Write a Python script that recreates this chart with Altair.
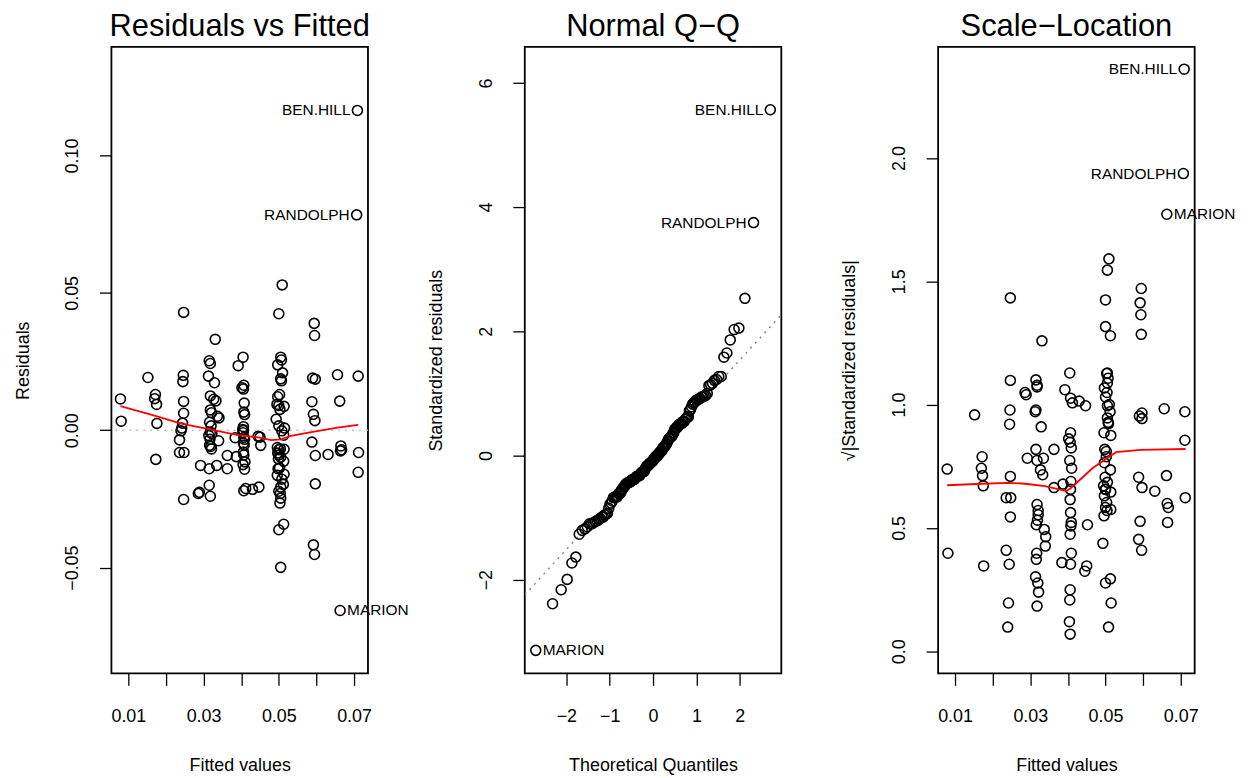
import altair as alt
import numpy as np
import pandas as pd

FONT = "Liberation Sans"

# ---- data -----------------------------------------------------------------
fitted = [
    0.0079, 0.0081,
    0.0152, 0.0172, 0.0170, 0.0173, 0.0175, 0.0176,
    0.0247, 0.0246, 0.0245, 0.0247, 0.0247, 0.0244, 0.0242, 0.0240, 0.0236, 0.0236, 0.0248, 0.0247,
    0.0331, 0.0315, 0.0318, 0.0289, 0.0286, 0.0318, 0.0313, 0.0315, 0.0329, 0.0315,
    0.0292, 0.0318, 0.0335, 0.0327, 0.0333, 0.0318, 0.0321, 0.0337, 0.0341, 0.0316,
    0.0320, 0.0318, 0.0322, 0.0314, 0.0317, 0.0340, 0.0316, 0.0319, 0.0321,
    0.0363, 0.0363,
    0.0405, 0.0392, 0.0407, 0.0402, 0.0406, 0.0408, 0.0407, 0.0409, 0.0406, 0.0404,
    0.0407, 0.0412, 0.0409, 0.0405, 0.0410, 0.0387, 0.0407, 0.0406, 0.0408, 0.0406,
    0.0409, 0.0384, 0.0407, 0.0405, 0.0406,
    0.0430, 0.0447, 0.0445, 0.0450, 0.0452,
    0.0509, 0.0500, 0.0505, 0.0507, 0.0497, 0.0510, 0.0505, 0.0507, 0.0502, 0.0497,
    0.0495, 0.0500, 0.0514, 0.0503, 0.0493, 0.0500, 0.0515,
    0.0505, 0.0500, 0.0513, 0.0503, 0.0505, 0.0504, 0.0500, 0.0505, 0.0512, 0.0508,
    0.0496, 0.0514, 0.0498, 0.0502, 0.0513, 0.0499, 0.0505, 0.0500, 0.0497, 0.0500,
    0.0514, 0.0504, 0.0496, 0.0513, 0.0508,
    0.0594, 0.0595, 0.0592, 0.0595, 0.0590, 0.0597, 0.0588, 0.0597, 0.0592, 0.0588, 0.0596, 0.0597,
    0.0656, 0.0662, 0.0631, 0.0664, 0.0667, 0.0665,
    0.0711, 0.0712, 0.0711,
    0.0709, 0.0707, 0.0663,
]
resid = [
    0.0114, 0.0033,
    0.0192, 0.0130, 0.0115, -0.0106, 0.0094, 0.0025,
    0.0429, 0.0200, 0.0177, 0.0105, 0.0062, 0.0026, 0.0008, -0.0002, -0.0035, -0.0081, -0.0081, -0.0252,
    0.0331, 0.0253, 0.0243, -0.0226, -0.0230, -0.0240, 0.0197, -0.0200, 0.0173, -0.0140,
    -0.0128, 0.0125, -0.0128, 0.0113, 0.0107, 0.0074, 0.0064, 0.0051, 0.0045, 0.0029,
    0.0016, -0.0007, -0.0012, -0.0019, -0.0033, -0.0038, -0.0055, -0.0059, -0.0068,
    -0.0140, -0.0092,
    0.0266, 0.0235, 0.0164, 0.0155, 0.0150, 0.0099, 0.0066, 0.0057, 0.0013, 0.0003,
    -0.0220, -0.0212, -0.0142, -0.0125, -0.0115, -0.0096, -0.0090, -0.0079, -0.0054, -0.0047,
    -0.0033, -0.0027, -0.0026, -0.0009, -0.0001,
    -0.0215, -0.0207, -0.0022, -0.0025, -0.0055,
    0.0529, 0.0424, 0.0266, 0.0256, 0.0238, 0.0209, 0.0187, 0.0180, 0.0130, 0.0122,
    0.0094, 0.0090, 0.0087, 0.0076, 0.0040, 0.0016, 0.0008,
    -0.0499, -0.0362, -0.0342, -0.0265, -0.0247, -0.0230, -0.0222, -0.0207, -0.0197, -0.0178,
    -0.0164, -0.0160, -0.0140, -0.0137, -0.0113, -0.0104, -0.0098, -0.0090, -0.0083, -0.0071,
    -0.0069, -0.0068, -0.0063, -0.0018, -0.0002,
    0.0389, 0.0345, -0.0417, -0.0452, 0.0190, 0.0186, 0.0104, -0.0092, 0.0058, -0.0043, 0.0035, -0.0195,
    0.0202, 0.0106, -0.0088, -0.0075, -0.0071, -0.0057,
    0.0197, -0.0081, -0.0153,
    0.1164, 0.0784, -0.0656,
]
outlier_names = ["BEN.HILL", "RANDOLPH", "MARION"]   # the last three points
SIGMA = 0.0209   # residual scale (read from the labelled points)

# red smoother of panel 1
smooth1_x = [0.0079, 0.0172, 0.0238, 0.0313, 0.0392, 0.0405, 0.0445, 0.0480, 0.0506, 0.0532, 0.0594, 0.0656, 0.0711]
smooth1_y = [0.0088, 0.0052, 0.0025, 0.0004, -0.0018, -0.0020, -0.0026, -0.0036, -0.0033, -0.0020, -0.0005, 0.0010, 0.0020]
# red smoother of panel 3
smooth3_x = [0.0079, 0.0172, 0.0242, 0.0286, 0.0339, 0.0396, 0.0409, 0.0466, 0.0528, 0.0594, 0.0713]
smooth3_y = [0.673, 0.679, 0.683, 0.679, 0.669, 0.649, 0.663, 0.743, 0.807, 0.816, 0.820]

# ---- tables ---------------------------------------------------------------
n = len(fitted)
df = pd.DataFrame({
    "fitted": fitted,
    "resid": resid,
    "label": [""] * (n - 3) + outlier_names,
})
df["std"] = df["resid"] / SIGMA
df["sqrtabs"] = np.sqrt(np.abs(df["std"]))

s1 = pd.DataFrame({"x": smooth1_x, "y": smooth1_y})
s3 = pd.DataFrame({"x": smooth3_x, "y": smooth3_y})

# Q-Q reference line through the quartiles
q1, q3 = np.quantile(df["std"], [0.25, 0.75])
z = 0.6744897501960817
qq_slope = (q3 - q1) / (2 * z)
qq_int = q1 + qq_slope * z

X_DOM = [0.0055, 0.0737]
Y1_DOM = [-0.0885, 0.1395]
QX_DOM = [-2.96, 2.96]
QY_DOM = [-3.51, 6.58]
Y3_DOM = [-0.09, 2.45]

qq_line = pd.DataFrame({"x": QX_DOM})
qq_line["y"] = qq_int + qq_slope * qq_line["x"]
zero_line = pd.DataFrame({"y": [0.0]})

W, H = 258, 630


def x_axis(title, values, expr):
    return alt.Axis(
        title=title, values=values, labelExpr=expr, grid=False, domain=False,
        ticks=True, tickSize=12, tickWidth=1.3, tickColor="black",
        labelFont=FONT, labelFontSize=18, labelColor="black", labelPadding=31,
        labelBaseline="middle", labelAlign="center", labelFlush=False, labelOverlap=False,
        titleFont=FONT, titleFontSize=18, titleFontWeight="normal", titleColor="black",
        titleY=93, titleBaseline="middle", titleAlign="center",
    )


def y_axis(title, values, expr):
    return alt.Axis(
        title=title, values=values, labelExpr=expr, grid=False, domain=False,
        ticks=True, tickSize=12, tickWidth=1.3, tickColor="black",
        labelFont=FONT, labelFontSize=18, labelColor="black", labelPadding=26.7,
        labelAngle=270, labelAlign="center", labelBaseline="middle",
        labelFlush=False, labelOverlap=False,
        titleFont=FONT, titleFontSize=18, titleFontWeight="normal", titleColor="black",
        titleAngle=270, titleX=-88.7, titleY=H / 2, titleAlign="center", titleBaseline="middle",
    )


def title(text):
    return alt.TitleParams(text, font=FONT, fontSize=31, fontWeight="normal", color="black",
                           anchor="middle", frame="group", offset=-20, baseline="alphabetic")


FIT_EXPR = "(round(datum.value*100) % 2 == 1) ? format(datum.value, '.2f') : ''"
PT = dict(shape="circle", filled=False, size=100, strokeWidth=1.6, color="black", opacity=1)
LAB = dict(font=FONT, fontSize=15.5, color="black", baseline="middle")
fit_vals = [0.01, 0.02, 0.03, 0.04, 0.05, 0.06, 0.07]

# ---- panel 1: Residuals vs Fitted ----------------------------------------
xs1 = alt.Scale(domain=X_DOM, nice=False, zero=False)
ys1 = alt.Scale(domain=Y1_DOM, nice=False, zero=False)
base1 = alt.Chart(df)
p1 = alt.layer(
    alt.Chart(zero_line).mark_rule(color="#BEBEBE", strokeDash=[2, 5], strokeWidth=1.4).encode(
        y=alt.Y("y:Q", scale=ys1)),
    base1.mark_point(**PT).encode(
        x=alt.X("fitted:Q", scale=xs1, axis=x_axis("Fitted values", fit_vals, FIT_EXPR)),
        y=alt.Y("resid:Q", scale=ys1, axis=y_axis("Residuals", [-0.05, 0.0, 0.05, 0.10],
                                                   "replace(format(datum.value, '.2f'), '-', '\u2212')"))),
    alt.Chart(s1).mark_line(color="red", strokeWidth=1.8).encode(
        x=alt.X("x:Q", scale=xs1), y=alt.Y("y:Q", scale=ys1)),
    base1.transform_filter("datum.label != '' && datum.resid > 0").mark_text(align="right", dx=-7, **LAB).encode(
        x=alt.X("fitted:Q", scale=xs1), y=alt.Y("resid:Q", scale=ys1), text="label:N"),
    base1.transform_filter("datum.label != '' && datum.resid < 0").mark_text(align="left", dx=7, **LAB).encode(
        x=alt.X("fitted:Q", scale=xs1), y=alt.Y("resid:Q", scale=ys1), text="label:N"),
).properties(width=W, height=H, title=title("Residuals vs Fitted"))

# ---- panel 2: Normal Q-Q ---------------------------------------------------
xs2 = alt.Scale(domain=QX_DOM, nice=False, zero=False)
ys2 = alt.Scale(domain=QY_DOM, nice=False, zero=False)
base2 = alt.Chart(df).transform_window(
    rank="row_number()", sort=[alt.SortField("std", order="ascending")]
).transform_joinaggregate(n="count()").transform_calculate(
    theo="quantileNormal((datum.rank - 0.5) / datum.n)"
)
p2 = alt.layer(
    alt.Chart(qq_line).mark_line(color="#7F7F7F", strokeDash=[2, 5], strokeWidth=1.4, clip=True).encode(
        x=alt.X("x:Q", scale=xs2), y=alt.Y("y:Q", scale=ys2)),
    base2.mark_point(**PT).encode(
        x=alt.X("theo:Q", scale=xs2, axis=x_axis("Theoretical Quantiles", [-2, -1, 0, 1, 2],
                                                 "replace(format(datum.value, 'd'), '-', '\u2212')")),
        y=alt.Y("std:Q", scale=ys2, axis=y_axis("Standardized residuals", [-2, 0, 2, 4, 6],
                                                "replace(format(datum.value, 'd'), '-', '\u2212')"))),
    base2.transform_filter("datum.label != '' && datum.std > 0").mark_text(align="right", dx=-7, **LAB).encode(
        x=alt.X("theo:Q", scale=xs2), y=alt.Y("std:Q", scale=ys2), text="label:N"),
    base2.transform_filter("datum.label != '' && datum.std < 0").mark_text(align="left", dx=7, **LAB).encode(
        x=alt.X("theo:Q", scale=xs2), y=alt.Y("std:Q", scale=ys2), text="label:N"),
).properties(width=W, height=H, title=title("Normal Q\u2212Q"))

# ---- panel 3: Scale-Location ----------------------------------------------
xs3 = alt.Scale(domain=X_DOM, nice=False, zero=False)
ys3 = alt.Scale(domain=Y3_DOM, nice=False, zero=False)
base3 = alt.Chart(df)
p3 = alt.layer(
    base3.mark_point(**PT).encode(
        x=alt.X("fitted:Q", scale=xs3, axis=x_axis("Fitted values", fit_vals, FIT_EXPR)),
        y=alt.Y("sqrtabs:Q", scale=ys3, axis=y_axis("\u221A|Standardized residuals|", [0, 0.5, 1.0, 1.5, 2.0],
                                                    "format(datum.value, '.1f')"))),
    alt.Chart(s3).mark_line(color="red", strokeWidth=1.8).encode(
        x=alt.X("x:Q", scale=xs3), y=alt.Y("y:Q", scale=ys3)),
    base3.transform_filter("datum.label != '' && datum.resid > 0").mark_text(align="right", dx=-7, **LAB).encode(
        x=alt.X("fitted:Q", scale=xs3), y=alt.Y("sqrtabs:Q", scale=ys3), text="label:N"),
    base3.transform_filter("datum.label != '' && datum.resid < 0").mark_text(align="left", dx=7, **LAB).encode(
        x=alt.X("fitted:Q", scale=xs3), y=alt.Y("sqrtabs:Q", scale=ys3), text="label:N"),
).properties(width=W, height=H, title=title("Scale\u2212Location"))

chart = alt.hconcat(p1, p2, p3, spacing=157.7, bounds="flush").configure(
    background="white",
    view=alt.ViewConfig(stroke="black", strokeWidth=1.8),
).properties(
    padding={"left": 5, "top": 0, "right": 5, "bottom": 5}
)

chart.save("out.html", embed_options={"renderer": "svg", "actions": False})
